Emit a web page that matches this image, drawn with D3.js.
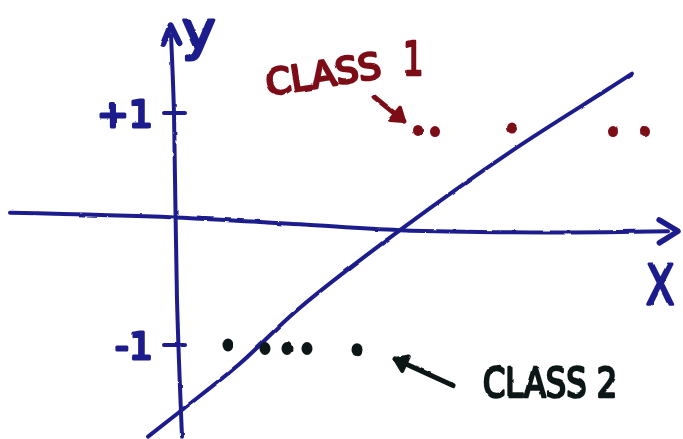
<!DOCTYPE html>
<html>
<head>
<meta charset="utf-8">
<script src="https://cdn.jsdelivr.net/npm/d3@7"></script>
<style>
  html, body { margin: 0; padding: 0; background: #fff; }
  svg { display: block; }
  text { font-family: "DejaVu Sans", sans-serif; }
</style>
</head>
<body>
<svg id="chart" width="683" height="439"></svg>
<script>
// Two classes on either side of a linear decision boundary, sketched by hand.
const class1X = [2.43, 2.60, 3.37, 4.38, 4.70];
const class1Y = [0.85, 0.84, 0.87, 0.84, 0.84];
const class2X = [0.53, 0.90, 1.12, 1.32, 1.82];
const class2Y = [-1.00, -1.03, -1.03, -1.03, -1.04];

// Decision boundary as drawn (a slightly bowed stroke)
const boundaryX = [-0.27, 0.07, 0.65, 1.22, 2.25, 3.38, 4.32, 4.57];
const boundaryY = [-1.79, -1.56, -1.16, -0.70, -0.01, 0.68, 1.20, 1.34];

// Hand-drawn axes
const xAxisX = [-1.65, 0.00, 1.25, 2.25, 3.75, 4.93];
const xAxisY = [0.14, 0.10, 0.04, -0.01, -0.03, -0.02];
const yAxisX = [0.07, 0.02, -0.01, -0.04];
const yAxisY = [-1.79, -0.61, 1.00, 1.67];

const yTicks = [1, -1];
const yTickLabels = ["+1", "-1"];
const classLabels = ["CLASS 1", "CLASS 2"];

const blue = "#1e1e8c";
const red = "#7c0a16";
const ink = "#101616";

const svg = d3.select("#chart");
const x = d3.scaleLinear().domain([0, 5]).range([175, 675]);
const y = d3.scaleLinear().domain([-1, 1]).range([345, 113]);

// slight wobble so strokes look like marker on paper
const defs = svg.append("defs");
const f = defs.append("filter").attr("id", "rough").attr("x", "-5%").attr("y", "-5%").attr("width", "110%").attr("height", "110%");
f.append("feTurbulence").attr("type", "fractalNoise").attr("baseFrequency", 0.08).attr("numOctaves", 2).attr("seed", 3).attr("result", "n");
f.append("feDisplacementMap").attr("in", "SourceGraphic").attr("in2", "n").attr("scale", 2.2).attr("xChannelSelector", "R").attr("yChannelSelector", "G");

const g = svg.append("g").attr("filter", "url(#rough)");

const line = d3.line().x(d => x(d[0])).y(d => y(d[1])).curve(d3.curveCatmullRom.alpha(0.5));

function chevron(pts, color, len, spread, w) {
  const a = pts[pts.length - 2], b = pts[pts.length - 1];
  const ang = Math.atan2(y(b[1]) - y(a[1]), x(b[0]) - x(a[0]));
  const tx = x(b[0]) + Math.cos(ang) * 10, ty = y(b[1]) + Math.sin(ang) * 10;
  const p1 = [tx - len * Math.cos(ang - spread), ty - len * Math.sin(ang - spread)];
  const p2 = [tx - len * Math.cos(ang + spread), ty - len * Math.sin(ang + spread)];
  g.append("path")
    .attr("d", `M${p1}L${tx},${ty}L${p2}`)
    .attr("fill", "none").attr("stroke", color).attr("stroke-width", w)
    .attr("stroke-linecap", "round").attr("stroke-linejoin", "round");
}

// x axis
const xAxisPts = xAxisX.map((v, i) => [v, xAxisY[i]]);
g.append("path").attr("d", line(xAxisPts)).attr("fill", "none")
  .attr("stroke", blue).attr("stroke-width", 4).attr("stroke-linecap", "round");
chevron(xAxisPts, blue, 22, 0.55, 5.5);

// y axis
const yAxisPts = yAxisX.map((v, i) => [v, yAxisY[i]]);
g.append("path").attr("d", line(yAxisPts)).attr("fill", "none")
  .attr("stroke", blue).attr("stroke-width", 4).attr("stroke-linecap", "round");
chevron(yAxisPts, blue, 20, 0.42, 6);

// y ticks and their labels
yTicks.forEach((t, i) => {
  g.append("line")
    .attr("x1", x(-0.11)).attr("x2", x(0.10))
    .attr("y1", y(t)).attr("y2", y(t))
    .attr("stroke", blue).attr("stroke-width", 4).attr("stroke-linecap", "round");
  g.append("text")
    .attr("x", x(-0.22)).attr("y", y(t) + 14)
    .attr("text-anchor", "end")
    .attr("font-size", 38)
    .attr("fill", blue).attr("stroke", blue).attr("stroke-width", 3)
    .attr("stroke-linejoin", "round")
    .text(yTickLabels[i]);
});

// axis letters, narrowed like the handwriting
g.append("text")
  .attr("transform", `translate(${x(0.07)},${y(1.55)}) scale(1.05,1)`)
  .attr("font-size", 54)
  .attr("fill", blue).attr("stroke", blue).attr("stroke-width", 3)
  .attr("stroke-linejoin", "round")
  .text("y");
g.append("text")
  .attr("transform", `translate(${x(4.71)},${y(-0.65)}) scale(0.74,1)`)
  .attr("font-size", 56)
  .attr("fill", blue).attr("stroke", blue).attr("stroke-width", 3)
  .attr("stroke-linejoin", "round")
  .text("X");

// decision boundary
const boundaryPts = boundaryX.map((v, i) => [v, boundaryY[i]]);
g.append("path").attr("d", line(boundaryPts)).attr("fill", "none")
  .attr("stroke", blue).attr("stroke-width", 4).attr("stroke-linecap", "round");

// points
g.selectAll(".c1").data(class1X).join("ellipse")
  .attr("cx", d => x(d)).attr("cy", (d, i) => y(class1Y[i]))
  .attr("rx", 5).attr("ry", 5.5).attr("fill", red);
g.selectAll(".c2").data(class2X).join("ellipse")
  .attr("cx", d => x(d)).attr("cy", (d, i) => y(class2Y[i]))
  .attr("rx", 5.5).attr("ry", 6.5).attr("fill", ink);

// class annotations with arrows to the first point of each group
function pointer(fromPx, toPx, color) {
  const ang = Math.atan2(toPx[1] - fromPx[1], toPx[0] - fromPx[0]);
  g.append("line").attr("x1", fromPx[0]).attr("y1", fromPx[1])
    .attr("x2", toPx[0]).attr("y2", toPx[1])
    .attr("stroke", color).attr("stroke-width", 5).attr("stroke-linecap", "round");
  const len = 14, sp = 0.6;
  const p1 = [toPx[0] - len * Math.cos(ang - sp), toPx[1] - len * Math.sin(ang - sp)];
  const p2 = [toPx[0] - len * Math.cos(ang + sp), toPx[1] - len * Math.sin(ang + sp)];
  g.append("path").attr("d", `M${p1}L${toPx}L${p2}Z`)
    .attr("fill", color).attr("stroke", color).attr("stroke-width", 4).attr("stroke-linejoin", "round");
}
pointer([x(1.99), y(1.14)], [x(2.29), y(0.93)], red);
pointer([x(2.78), y(-1.35)], [x(2.20), y(-1.12)], ink);

// "CLASS" slopes upward, the number sits higher
const [c1word, c1num] = classLabels[0].split(" ");
g.append("text")
  .attr("transform", `translate(${x(0.93)},${y(1.15)}) rotate(-9)`)
  .attr("font-size", 36)
  .attr("fill", red).attr("stroke", red).attr("stroke-width", 2.6)
  .attr("stroke-linejoin", "round")
  .attr("textLength", 116).attr("lengthAdjust", "spacingAndGlyphs")
  .text(c1word);
g.append("text")
  .attr("transform", `translate(${x(2.28)},${y(1.33)}) scale(0.7,1)`)
  .attr("font-family", "'Open Sans', sans-serif")
  .attr("font-size", 46)
  .attr("fill", red).attr("stroke", red).attr("stroke-width", 2.6)
  .attr("stroke-linejoin", "round")
  .text(c1num);

g.append("text")
  .attr("x", x(3.08)).attr("y", y(-1.45))
  .attr("font-size", 40)
  .attr("fill", ink).attr("stroke", ink).attr("stroke-width", 2.6)
  .attr("stroke-linejoin", "round")
  .attr("textLength", 134).attr("lengthAdjust", "spacingAndGlyphs")
  .text(classLabels[1]);
</script>
</body>
</html>
